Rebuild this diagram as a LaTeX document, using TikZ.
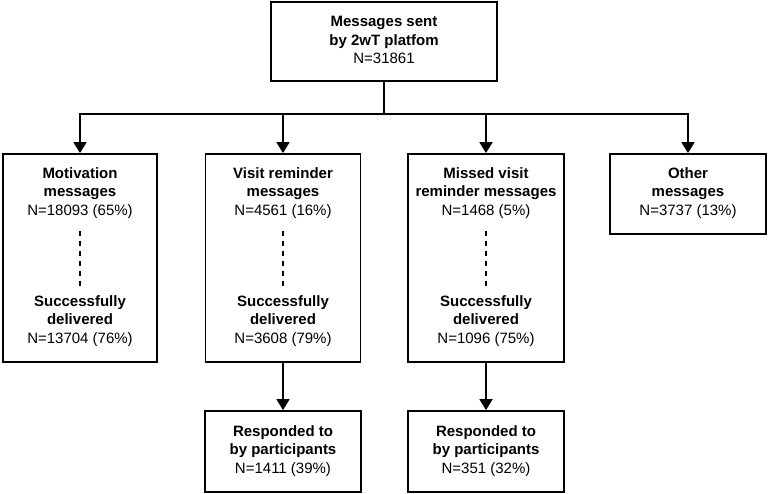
\documentclass[tikz,border=0pt]{standalone}
\usepackage{fontspec}
\setmainfont{Liberation Sans}
\usetikzlibrary{arrows.meta}

\tikzset{
    box/.style={draw, line width=1.8pt, rectangle, inner sep=0pt},
    lbl/.style={align=center, inner sep=2pt, font=\fontsize{15}{18.5}\selectfont},
    arr/.style={line width=1.8pt, -{Triangle[width=13pt,length=11pt]}},
    link/.style={line width=1.8pt},
    dots/.style={line width=1.4pt, dash pattern=on 5pt off 5pt}
}

\begin{document}
\begin{tikzpicture}[x=1pt, y=-1pt]

    \useasboundingbox (0, 0) rectangle (768, 494);

    \node[box, minimum width=226pt, minimum height=79pt] (top) at (384, 41.5) {};
    \node[lbl] (toptxt) at (384, 40) {\textbf{Messages sent}\\\textbf{by 2wT platfom}\\N=31861};

    \node[box, minimum width=154pt, minimum height=208pt] (mot) at (80, 258) {};
    \node[box, minimum width=155pt, minimum height=208pt] (vis) at (283, 258) {};
    \node[box, minimum width=156pt, minimum height=208pt] (mis) at (486, 258) {};
    \node[box, minimum width=156pt, minimum height=80pt] (oth) at (688, 194) {};

    \node[box, minimum width=156pt, minimum height=81pt] (visres) at (283, 451.5) {};
    \node[box, minimum width=156pt, minimum height=81pt] (misres) at (486, 451.5) {};

    \node[lbl] (motA) at (80, 193) {\textbf{Motivation}\\\textbf{messages}\\N=18093 (65\%)};
    \node[lbl] (motB) at (80, 321) {\textbf{Successfully}\\\textbf{delivered}\\N=13704 (76\%)};
    \node[lbl] (visA) at (283, 193) {\textbf{Visit reminder}\\\textbf{messages}\\N=4561 (16\%)};
    \node[lbl] (visB) at (283, 321) {\textbf{Successfully}\\\textbf{delivered}\\N=3608 (79\%)};
    \node[lbl] (misA) at (486, 193) {\textbf{Missed visit}\\\textbf{reminder messages}\\N=1468 (5\%)};
    \node[lbl] (misB) at (486, 321) {\textbf{Successfully}\\\textbf{delivered}\\N=1096 (75\%)};
    \node[lbl] (othA) at (688, 193) {\textbf{Other}\\\textbf{messages}\\N=3737 (13\%)};
    \node[lbl] (visC) at (283, 451) {\textbf{Responded to}\\\textbf{by participants}\\N=1411 (39\%)};
    \node[lbl] (misC) at (486, 451) {\textbf{Responded to}\\\textbf{by participants}\\N=351 (32\%)};

    \coordinate (split) at (384, 114);
    \draw[link] (top.south) -- (split);
    \foreach \b in {mot, vis, mis, oth} {
            \draw[arr] (split) -| (\b.north);
        }

    \foreach \b in {mot, vis, mis} {
            \draw[dots] ([yshift=-10pt]\b A.south) -- ([yshift=6pt]\b B.north);
        }

    \draw[arr] (vis.south) -- (visres.north);
    \draw[arr] (mis.south) -- (misres.north);

\end{tikzpicture}
\end{document}
